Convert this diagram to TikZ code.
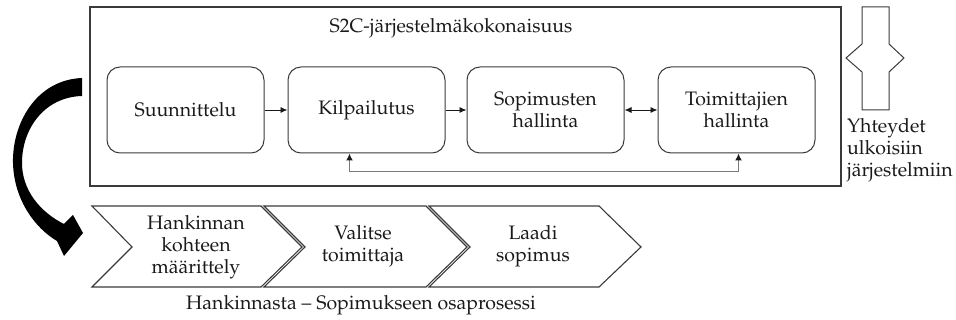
\documentclass[tikz,border=0pt]{standalone}
\usepackage[T1]{fontenc}
\usepackage{mathpazo}
\usetikzlibrary{arrows.meta,positioning,calc}
\definecolor{ink}{HTML}{1A1A1A}
\definecolor{edge}{HTML}{3A3A3A}
\definecolor{soft}{HTML}{7A7A7A}
\newcommand{\phasefont}{\fontsize{19.5}{22}\selectfont}
\tikzset{
  phase/.style={draw=edge,line width=1pt,rounded corners=13pt,minimum width=157pt,minimum height=86pt,align=center,font=\phasefont,text=ink},
  frame/.style={draw=edge,line width=1.1pt,inner sep=0pt},
  chev/.style={draw=edge,line width=1.1pt,line join=miter},
  txt/.style={inner sep=0pt,align=center,font=\phasefont,text=ink},
  flow/.style={-{Latex[length=7pt,width=6pt]},line width=0.9pt,draw=ink},
  twoway/.style={{Latex[length=7pt,width=6pt]}-{Latex[length=7pt,width=6pt]},line width=0.9pt,draw=ink},
  backflow/.style={{Latex[length=7pt,width=7pt,color=ink]}-{Latex[length=7pt,width=7pt,color=ink]},line width=1.5pt,draw=soft}
}
\begin{document}
\begin{tikzpicture}[x=1pt,y=-1pt]
    \useasboundingbox (0,0) rectangle (956,320);
    % system frame
    \node[frame,minimum width=751pt,minimum height=179pt] (frame) at (465.5,96.5) {};
    \node[txt] (title) at (451,28) {S2C-järjestelmäkokonaisuus};
    % phases
    \node[phase] (suun) at (185.5,110) {Suunnittelu};
    \node[phase,right=23pt of suun] (kilp) {Kilpailutus};
    \node[phase,right=21pt of kilp] (sopi) {Sopimusten\\hallinta};
    \node[phase,right=33pt of sopi] (toim) {Toimittajien\\hallinta};
    \draw[flow] (suun) -- (kilp);
    \draw[flow] (kilp) -- (sopi);
    \draw[twoway] (sopi) -- (toim);
    \draw[backflow] ([xshift=-17pt]kilp.south) -- ++(0,18) -| ([xshift=2pt]toim.south);
    % external interfaces
    \draw[draw=edge,line width=1pt] (862,7) -- (889,7) -- (889,44) -- (904,58) -- (889,72) -- (889,110)
      -- (862,110) -- (862,72) -- (846,58) -- (862,44) -- cycle;
    \node[txt,align=left,anchor=north west] (ext) at (847,118) {Yhteydet\\ulkoisiin\\järjestelmiin};
    % sub-process chevrons
    \draw[chev] (92,206) -- (261,206) -- (302,247) -- (261,287) -- (92,287) -- (132,247) -- cycle;
    \draw[chev] (264,206) -- (426,206) -- (467,247) -- (426,287) -- (264,287) -- (305,247) -- cycle;
    \draw[chev] (429,206) -- (599,206) -- (641,247) -- (599,287) -- (429,287) -- (470,247) -- cycle;
    \node[txt] (maar) at (196,247) {Hankinnan\\kohteen\\määrittely};
    \node[txt] (vali) at (363,246) {Valitse\\toimittaja};
    \node[txt] (laad) at (533,246) {Laadi\\sopimus};
    \node[txt] (cap) at (361,305) {Hankinnasta -- Sopimukseen osaprosessi};
    % big arrow from frame to sub-process
    \fill[black] (82,78) .. controls (35,80) and (12,125) .. (13,163)
      .. controls (14,200) and (35,228) .. (57,241) -- (64,256) -- (83,233) -- (73,215) -- (64,224)
      .. controls (40,212) and (22,190) .. (22,163) .. controls (22,128) and (45,97) .. (82,96) -- cycle;
  \end{tikzpicture}
\end{document}
